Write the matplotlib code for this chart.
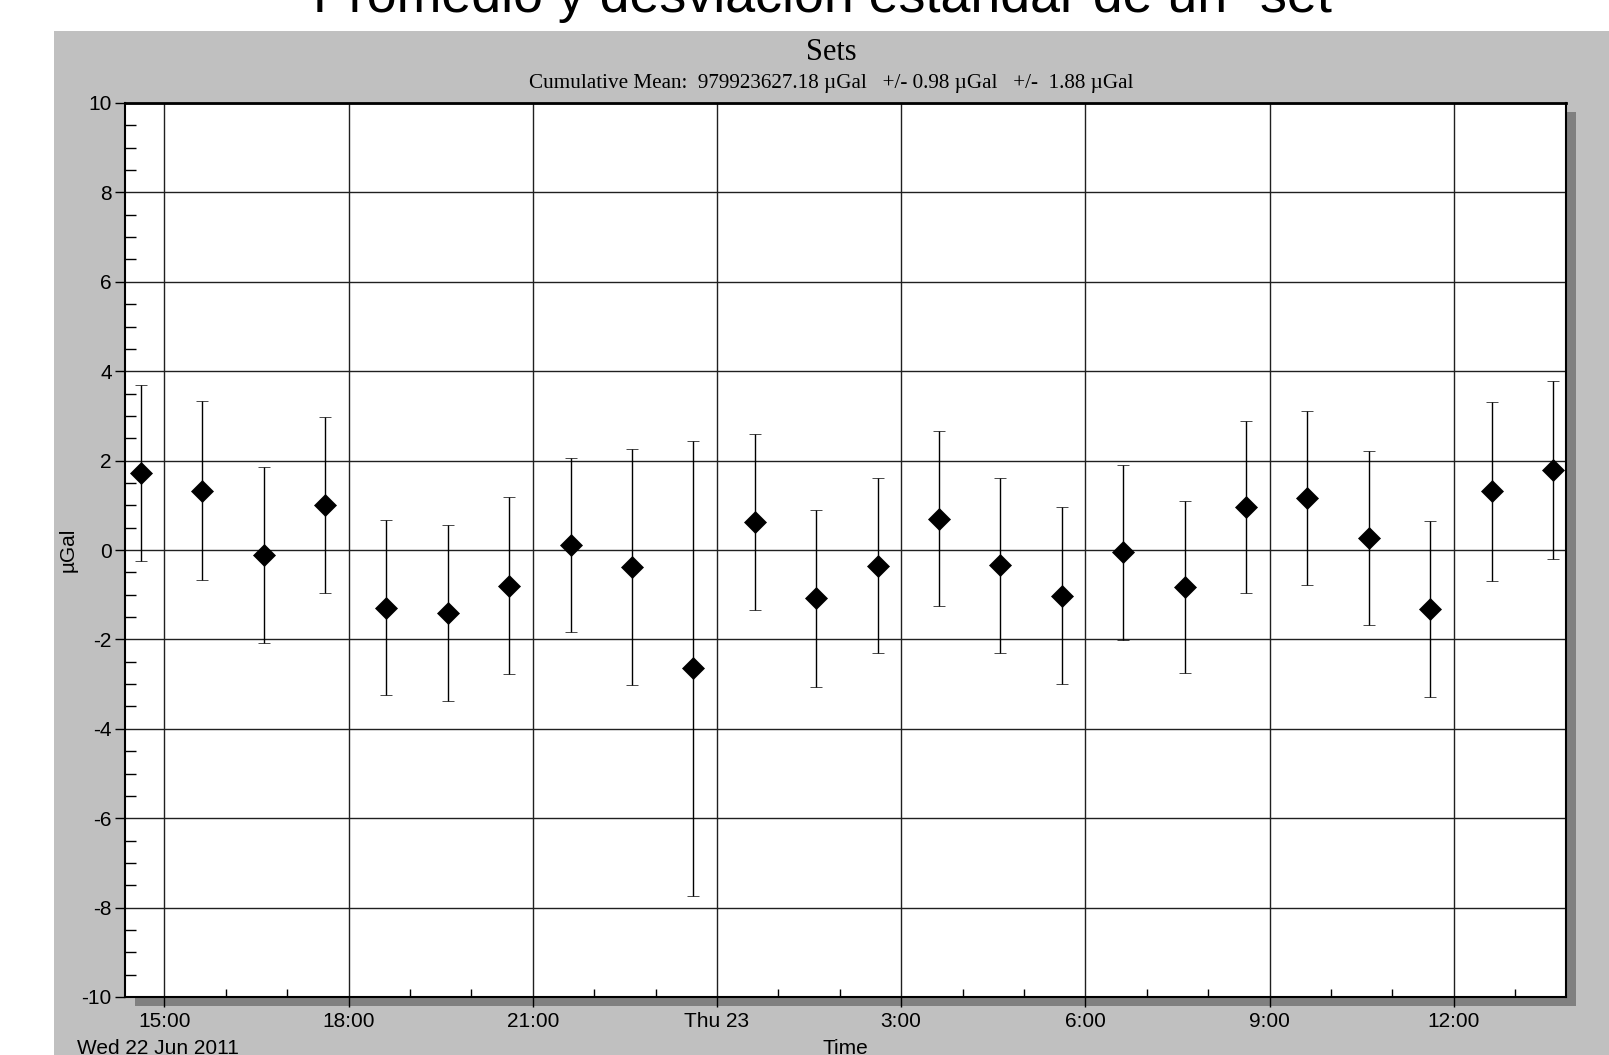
import datetime as dt
import matplotlib
matplotlib.use("Agg")
import matplotlib.pyplot as plt
import matplotlib.dates as mdates
from matplotlib.patches import Rectangle
from matplotlib.ticker import MultipleLocator, FuncFormatter

plt.rcParams['font.family'] = ['Liberation Sans', 'DejaVu Sans']
plt.rcParams['axes.unicode_minus'] = False

# set start time and one set per hour
start = dt.datetime(2011, 6, 22, 14, 37)
n_sets = 24
set_mean = [1.72, 1.33, -0.11, 1.00, -1.29, -1.41, -0.80, 0.11, -0.39, -2.65,
            0.62, -1.08, -0.35, 0.70, -0.34, -1.02, -0.05, -0.83, 0.96, 1.16,
            0.27, -1.32, 1.31, 1.79]
set_std = [1.97, 2.00, 1.97, 1.97, 1.96, 1.97, 1.98, 1.94, 2.64, 5.09,
           1.97, 1.98, 1.96, 1.96, 1.96, 1.98, 1.96, 1.93, 1.93, 1.94,
           1.94, 1.96, 2.00, 1.99]
times = [start + dt.timedelta(hours=k) for k in range(n_sets)]

x_min = dt.datetime(2011, 6, 22, 14, 21, 36)
x_max = dt.datetime(2011, 6, 23, 13, 49, 36)

title = "Promedio y desviación estándar de un “set”"
subtitle = "Cumulative Mean:  979923627.18 µGal   +/- 0.98 µGal   +/-  1.88 µGal"

W, H = 1609, 1055
fig = plt.figure(figsize=(W / 100, H / 100), dpi=100)

def fx(px):
    return px / W

def fy(py):
    return 1 - py / H

# grey panel
fig.patches.append(Rectangle((fx(54), 0), 1 - fx(54), fy(31), transform=fig.transFigure,
                             facecolor='#c0c0c0', edgecolor='none', zorder=-2))
# plot shadow
left, right, top, bottom = 125, 1566, 103, 997
fig.patches.append(Rectangle((fx(left + 10), fy(bottom + 9)), fx(right - left), (bottom - top) / H,
                             transform=fig.transFigure, facecolor='#808080',
                             edgecolor='none', zorder=-1))

ax = fig.add_axes([fx(left), fy(bottom), fx(right - left), (bottom - top) / H])
ax.set_facecolor('white')

ax.errorbar(times, set_mean, yerr=set_std, fmt='D', color='black', ms=11,
            mec='black', mew=0.5, ecolor='black', elinewidth=1, capsize=4.3,
            capthick=1, zorder=3)

ax.set_xlim(x_min, x_max)
ax.set_ylim(-10, 10)
ax.yaxis.set_major_locator(MultipleLocator(2))
ax.yaxis.set_minor_locator(MultipleLocator(0.5))
ax.xaxis.set_major_locator(mdates.HourLocator(byhour=range(0, 24, 3)))
ax.xaxis.set_minor_locator(mdates.HourLocator())

def fmt_time(v, pos):
    d = mdates.num2date(v)
    if d.hour == 0:
        return d.strftime('%a ') + str(d.day)
    return f"{d.hour}:{d.minute:02d}"

ax.xaxis.set_major_formatter(FuncFormatter(fmt_time))

ax.grid(True, which='major', color='#202020', lw=1)
ax.tick_params(which='major', direction='out', length=7.5, width=1, color='black',
               labelsize=15, pad=2)
ax.tick_params(which='minor', axis='y', direction='in', length=8, width=1, color='black')
ax.tick_params(which='minor', axis='x', direction='in', length=5.5, width=1, color='black')
ax.tick_params(axis='x', pad=3)
for s in ax.spines.values():
    s.set_color('black')
    s.set_linewidth(1.5)
ax.spines['top'].set_linewidth(2)

ax.set_ylabel('µGal', fontsize=15, labelpad=3)

fig.text(0.5 * (fx(54) + 1), fy(12), title, ha='center', va='baseline', fontsize=38.7)
fig.text(0.5 * (fx(54) + 1), fy(60), 'Sets', ha='center', va='baseline', fontsize=22,
         family='Liberation Serif')
fig.text(0.5 * (fx(54) + 1), fy(88), subtitle, ha='center', va='baseline', fontsize=15.2,
         family='Liberation Serif')
fig.text(fx(77), fy(1039), 'Wed 22 Jun 2011', ha='left', va='top', fontsize=15)
fig.text(fx(0.5 * (left + right)), fy(1039), 'Time', ha='center', va='top', fontsize=15)

fig.savefig('out.png', dpi=100, facecolor='white')
